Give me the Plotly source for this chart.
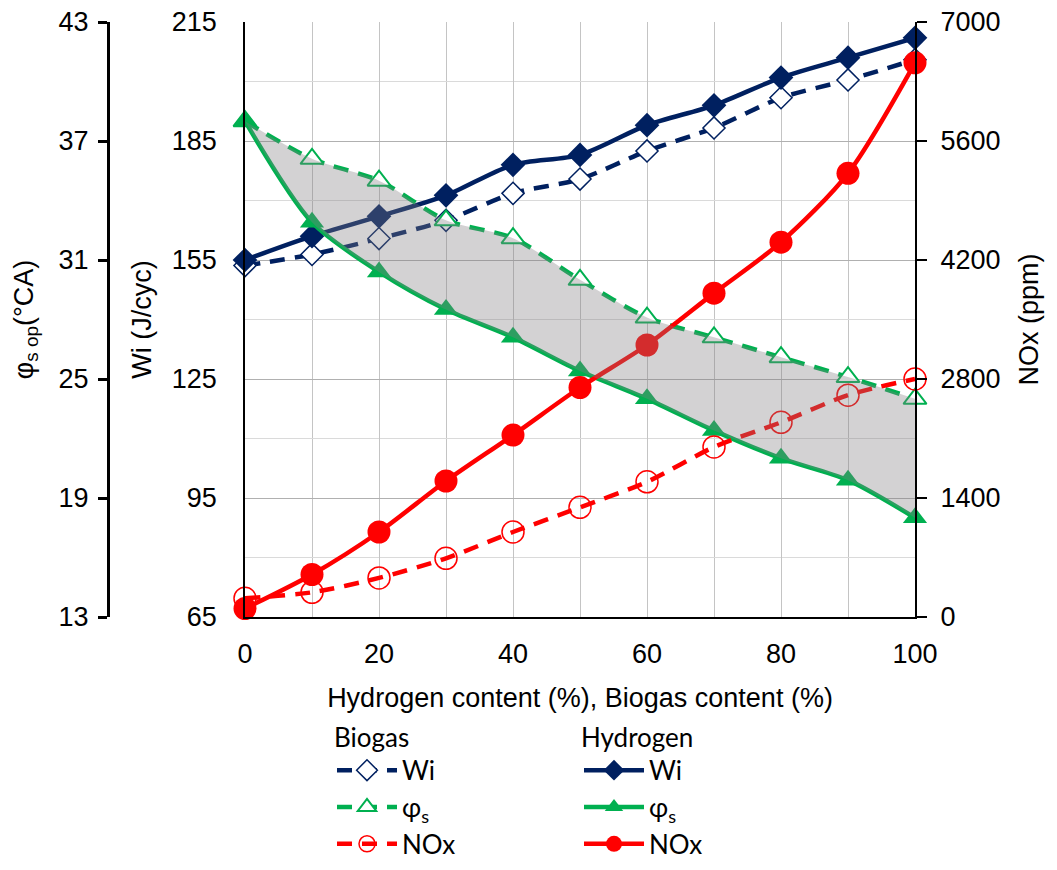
import plotly.graph_objects as go

content = [0, 10, 20, 30, 40, 50, 60, 70, 80, 90, 100]

wi_h2 = [155, 161, 166, 171.3, 179, 181.5, 189, 194, 201, 206, 211]
wi_bio = [153.6, 156.4, 160.4, 165, 171.8, 175.4, 182.5, 188.3, 195.9, 200.4, 205.5]

phi_h2 = [38.0, 32.9, 30.4, 28.5, 27.1, 25.4, 24.0, 22.4, 21.0, 19.9, 18.0]
phi_bio = [38.0, 36.1, 35.0, 33.0, 32.1, 30.0, 28.1, 27.1, 26.1, 25.1, 24.0]

nox_h2 = [100, 500, 1000, 1600, 2140, 2700, 3200, 3810, 4410, 5220, 6520]
nox_bio = [220, 290, 460, 690, 1000, 1290, 1590, 2000, 2290, 2610, 2800]

x_ticks = [0, 20, 40, 60, 80, 100]

NAVY = "#002060"
GREEN = "#00B050"
RED = "#FF0000"
DASH = "15px,10px"
SMOOTH = 0.8
AX_FONT = dict(family="Liberation Sans, Arial", size=27, color="black")
LEG_FONT = dict(family="Lato, Carlito, Calibri", size=26, color="black")

fig = go.Figure()

# Wi (left inner axis)
fig.add_trace(go.Scatter(x=content, y=wi_bio, name="Wi", legend="legend", legendgroup="b1",
                         yaxis="y", mode="lines+markers", cliponaxis=False,
                         line=dict(color=NAVY, width=4.5, dash=DASH, shape="spline", smoothing=SMOOTH),
                         marker=dict(symbol="diamond", size=17, color="white",
                                     line=dict(color=NAVY, width=1.5))))
fig.add_trace(go.Scatter(x=content, y=wi_h2, name="Wi", legend="legend2", legendgroup="h1",
                         yaxis="y", mode="lines+markers", cliponaxis=False,
                         line=dict(color=NAVY, width=4.5, shape="spline", smoothing=SMOOTH),
                         marker=dict(symbol="diamond", size=19, color=NAVY)))

# phi (far-left axis)
fig.add_trace(go.Scatter(x=content, y=phi_bio, name="φ<sub>s</sub>", legend="legend", legendgroup="b2",
                         yaxis="y2", mode="lines+markers", cliponaxis=False,
                         line=dict(color=GREEN, width=4.5, dash=DASH, shape="spline", smoothing=SMOOTH),
                         marker=dict(symbol="triangle-up", size=20, color="white",
                                     line=dict(color=GREEN, width=2))))
fig.add_trace(go.Scatter(x=content, y=phi_h2, name="φ<sub>s</sub>", legend="legend2", legendgroup="h2",
                         yaxis="y2", mode="lines+markers", cliponaxis=False,
                         line=dict(color=GREEN, width=4.5, shape="spline", smoothing=SMOOTH),
                         marker=dict(symbol="triangle-up", size=21, color=GREEN)))

# NOx (right axis)
fig.add_trace(go.Scatter(x=content, y=nox_bio, name="NOx", legend="legend", legendgroup="b3",
                         yaxis="y3", mode="lines+markers", cliponaxis=False,
                         line=dict(color=RED, width=4.5, dash=DASH, shape="spline", smoothing=SMOOTH),
                         marker=dict(symbol="circle-open", size=22,
                                     line=dict(color=RED, width=1.5), color=RED)))
fig.add_trace(go.Scatter(x=content, y=nox_h2, name="NOx", legend="legend2", legendgroup="h3",
                         yaxis="y3", mode="lines+markers", cliponaxis=False,
                         line=dict(color=RED, width=4.5, shape="spline", smoothing=SMOOTH),
                         marker=dict(symbol="circle", size=23, color=RED)))

# shaded band between the two phi curves, drawn on top
fig.add_trace(go.Scatter(x=content, y=phi_bio, yaxis="y4", mode="lines", showlegend=False,
                         hoverinfo="skip",
                         line=dict(width=0, shape="spline", smoothing=SMOOTH, color="rgba(0,0,0,0)")))
fig.add_trace(go.Scatter(x=content, y=phi_h2, yaxis="y4", mode="lines", showlegend=False,
                         hoverinfo="skip", fill="tonexty", fillcolor="rgba(128,126,130,0.35)",
                         line=dict(width=0, shape="spline", smoothing=SMOOTH, color="rgba(0,0,0,0)")))

# page body adds an 8px offset; work in screen pixels and convert
OFF = 8
W, H = 1057 - OFF, 870 - OFF
PLOT_L, PLOT_R, PLOT_T, PLOT_B = 245 - OFF, 915 - OFF, 22 - OFF, 617 - OFF
ML, MR, MT, MB = 0, W - PLOT_R, PLOT_T, H - PLOT_B
paper_w = W - ML - MR
paper_h = H - MT - MB
x0 = (PLOT_L - ML) / paper_w
phi_pos = (108 - OFF - ML) / paper_w


def px(screen_x):
    return (screen_x - OFF - ML) / paper_w


def py(screen_y):
    return (PLOT_B - (screen_y - OFF)) / paper_h


fig.update_layout(
    width=W, height=H,
    margin=dict(l=ML, r=MR, t=MT, b=MB, autoexpand=False),
    paper_bgcolor="white", plot_bgcolor="white",
    font=AX_FONT,
    xaxis=dict(domain=[x0, 1.0], range=[0, 100], tickvals=x_ticks, automargin=False,
               showgrid=True, gridcolor="#c4c4c4", gridwidth=1.2,
               minor=dict(dtick=10, showgrid=True, gridcolor="#c4c4c4", gridwidth=1.2),
               showline=True, linecolor="black", linewidth=2, ticks="",
               tickfont=AX_FONT, zeroline=False, ticklabelstandoff=12,
               ticklabeloverflow="allow",
               title=dict(text="Hydrogen content (%), Biogas content (%)", font=AX_FONT, standoff=20)),
    yaxis=dict(range=[65, 215], dtick=30, tick0=65, automargin=False,
               showgrid=True, gridcolor="#b0b0b0", gridwidth=1.4,
               minor=dict(dtick=15, tick0=65, showgrid=True, gridcolor="#dadada", gridwidth=1.2),
               showline=True, linecolor="black", linewidth=1.5, ticks="",
               zeroline=False, tickfont=AX_FONT, ticklabelstandoff=21,
               ticklabeloverflow="allow",
               title=dict(text="Wi (J/cyc)", font=AX_FONT, standoff=12)),
    yaxis2=dict(range=[13, 43], dtick=6, tick0=13, overlaying="y", anchor="free", automargin=False,
                position=phi_pos, side="left", showgrid=False, zeroline=False,
                showline=True, linecolor="black", linewidth=3,
                ticks="outside", ticklen=9, tickwidth=3, tickcolor="black",
                tickfont=AX_FONT, ticklabelstandoff=4, ticklabeloverflow="allow",
                title=dict(text="φ<sub>s op</sub>(°CA)", font=AX_FONT, standoff=16)),
    yaxis3=dict(range=[0, 7000], dtick=1400, overlaying="y", anchor="x", side="right",
                automargin=False,
                showgrid=False, zeroline=False, showline=True, linecolor="black", linewidth=2,
                ticks="outside", ticklen=10, tickwidth=2, tickcolor="black",
                tickfont=AX_FONT, ticklabelstandoff=8, ticklabeloverflow="allow",
                title=dict(text="NOx (ppm)", font=AX_FONT, standoff=20)),
    yaxis4=dict(range=[13, 43], overlaying="y", visible=False),
    legend=dict(title=dict(text="Biogas", font=LEG_FONT, side="top"), traceorder="normal",
                x=px(332), y=py(713), xanchor="left", yanchor="top",
                font=LEG_FONT, itemwidth=60, bgcolor="rgba(0,0,0,0)", tracegroupgap=5),
    legend2=dict(title=dict(text="Hydrogen", font=LEG_FONT, side="top"), traceorder="normal",
                 x=px(579), y=py(713), xanchor="left", yanchor="top",
                 font=LEG_FONT, itemwidth=60, bgcolor="rgba(0,0,0,0)", tracegroupgap=5),
    showlegend=True,
)

fig.write_html("out.html")
